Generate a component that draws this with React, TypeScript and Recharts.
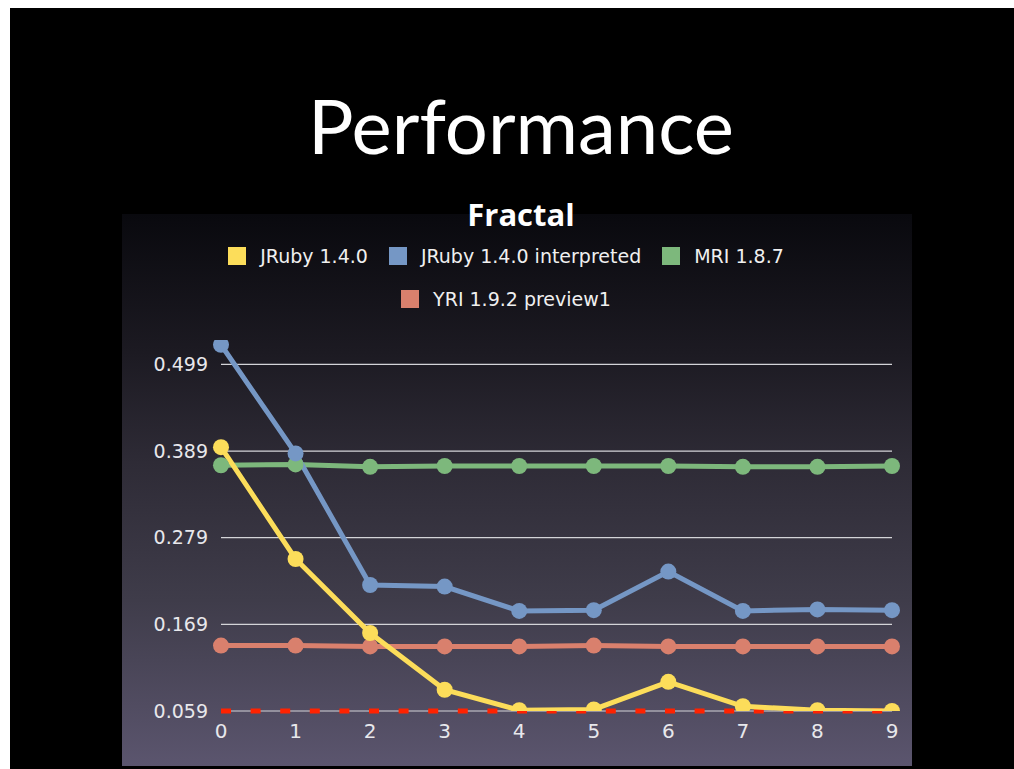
import { LineChart, Line, XAxis, YAxis, CartesianGrid, ReferenceLine } from "recharts"

const runs = ["0", "1", "2", "3", "4", "5", "6", "7", "8", "9"]
const jruby = [0.394, 0.252, 0.158, 0.086, 0.06, 0.061, 0.096, 0.065, 0.06, 0.059]
const jrubyInterpreted = [0.524, 0.386, 0.219, 0.217, 0.186, 0.187, 0.236, 0.186, 0.188, 0.187]
const mri = [0.371, 0.372, 0.369, 0.37, 0.37, 0.37, 0.37, 0.369, 0.369, 0.37]
const yri = [0.142, 0.142, 0.141, 0.141, 0.141, 0.142, 0.141, 0.141, 0.141, 0.141]
const yTicks = [0.059, 0.169, 0.279, 0.389, 0.499]
const baseline = 0.059

const series = [
  { key: "jruby", name: "JRuby 1.4.0", color: "#fcdd5a", values: jruby },
  { key: "jrubyInterpreted", name: "JRuby 1.4.0 interpreted", color: "#7597c5", values: jrubyInterpreted },
  { key: "mri", name: "MRI 1.8.7", color: "#7db87c", values: mri },
  { key: "yri", name: "YRI 1.9.2 preview1", color: "#d9806d", values: yri },
]

// drawing order: bottom first
const drawOrder = ["yri", "mri", "jrubyInterpreted", "jruby"]

const data = runs.map((run, i) => {
  const row: Record<string, string | number> = { run }
  series.forEach((s) => (row[s.key] = s.values[i]))
  return row
})

const font = "'DejaVu Sans', sans-serif"

export default function App() {
  return (
    <div style={{ position: "fixed", left: 10, top: 8, right: 0, bottom: 0, background: "#000", overflow: "hidden" }}>
      <div
        style={{
          position: "absolute",
          left: 0,
          width: 1022,
          top: 79,
          textAlign: "center",
          color: "#fff",
          fontFamily: "Lato, sans-serif",
          fontSize: 76,
          lineHeight: "76px",
        }}
      >
        Performance
      </div>
      <div
        style={{
          position: "absolute",
          left: 112,
          top: 206,
          width: 790,
          height: 552,
          background: "linear-gradient(to bottom, #09090e 0%, #1c1a22 25%, #2e2b36 45%, #3f3c4a 70%, #5b556e 100%)",
        }}
      >
        <LineChart width={790} height={552} data={data} margin={{ top: 126, right: 20, bottom: 20, left: 0 }}>
          <CartesianGrid vertical={false} horizontalValues={yTicks} stroke="#d4d4d8" strokeWidth={1.2} />
          <XAxis
            dataKey="run"
            axisLine={false}
            tickLine={false}
            tickSize={0}
            tickMargin={13}
            height={35}
            tick={{ fill: "#e8e8ec", fontSize: 20, fontFamily: font }}
          />
          <YAxis
            domain={[0.059, 0.53]}
            ticks={yTicks}
            allowDataOverflow
            axisLine={false}
            tickLine={false}
            tickSize={0}
            tickMargin={13}
            width={99}
            tickFormatter={(v) => Number(v).toFixed(3)}
            tick={{ fill: "#e8e8ec", fontSize: 19, fontFamily: font }}
          />
          <ReferenceLine y={baseline} stroke="#ff2200" strokeWidth={5} strokeDasharray="10 19.6" />
          {drawOrder.map((k) => {
            const s = series.find((x) => x.key === k)!
            return (
              <Line
                key={s.key}
                dataKey={s.key}
                name={s.name}
                type="linear"
                stroke={s.color}
                strokeWidth={5}
                dot={{ r: 8, fill: s.color, stroke: "none" }}
                activeDot={false}
                isAnimationActive={false}
              />
            )
          })}
        </LineChart>
      </div>
      <div
        style={{
          position: "absolute",
          left: 0,
          width: 1022,
          top: 190,
          textAlign: "center",
          color: "#fff",
          fontFamily: "'Open Sans', sans-serif",
          fontWeight: 700,
          fontSize: 31,
          lineHeight: "32px",
        }}
      >
        Fractal
      </div>
      <div
        style={{
          position: "absolute",
          left: 186,
          width: 620,
          top: 237,
          display: "flex",
          flexWrap: "wrap",
          justifyContent: "center",
          columnGap: 21,
          rowGap: 21,
          fontFamily: font,
          fontSize: 19,
          color: "#f0f0f0",
        }}
      >
        {series.map((s) => (
          <div key={s.key} style={{ display: "flex", alignItems: "center", height: 22 }}>
            <span style={{ display: "inline-block", width: 18, height: 18, background: s.color, marginRight: 14 }} />
            <span>{s.name}</span>
          </div>
        ))}
      </div>
    </div>
  )
}
